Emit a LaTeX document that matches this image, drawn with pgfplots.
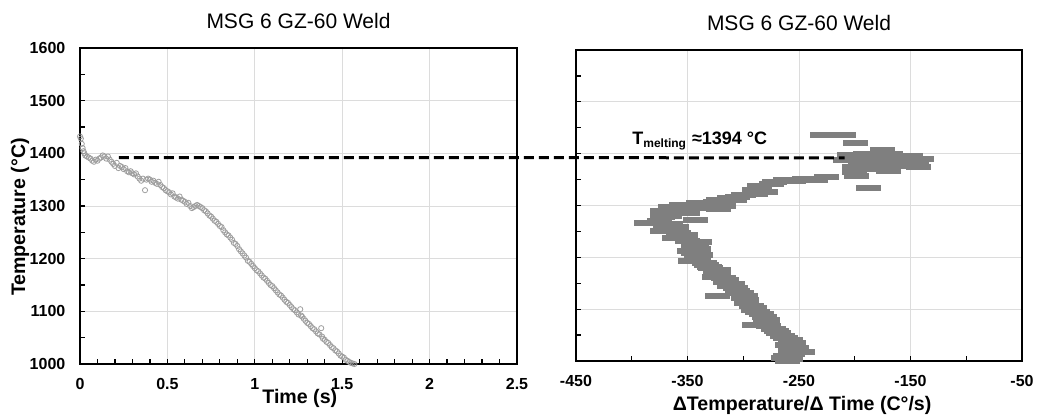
\documentclass[border=0pt]{standalone}
\usepackage{pgfplots}
\pgfplotsset{compat=1.18}
\usepackage{fontspec}
\setmainfont{Liberation Sans}

\definecolor{ptgray}{HTML}{9E9E9E}
\definecolor{bargray}{HTML}{7F7F7F}
\definecolor{gridgray}{HTML}{DCDCDC}

% flat horizontal bar used as marker in the rate plot
\pgfdeclareplotmark{hbar}{%
  \pgfpathrectangle{\pgfpoint{-6.25pt}{-1.5pt}}{\pgfpoint{12.5pt}{3pt}}%
  \pgfusepathqfill}

\pgfplotsset{
  weld/.style={
    scale only axis,
    axis line style={line width=1pt},
    tick style={black, line width=0.6pt},
    major tick length=2.5pt, minor tick length=2.5pt,
    tick align=inside, xtick pos=bottom, ytick pos=left,
    grid=major, major grid style={gridgray, line width=0.4pt},
    ticklabel style={font=\fontsize{8}{9}\selectfont\bfseries},
    xticklabel style={yshift=-3.8pt},
    yticklabel style={xshift=-3.8pt},
    /pgf/number format/assume math mode=true,
    /pgf/number format/1000 sep={},
    title style={font=\fontsize{10.5}{12}\selectfont, at={(0.5,1)}, anchor=base, yshift=4pt},
    label style={font=\fontsize{9.8}{11}\selectfont\bfseries},
    ymin=1000, ymax=1600, ytick={1000,1100,...,1600}, minor ytick={1050,1150,...,1550},
  }
}

\begin{document}
\begin{tikzpicture}
\path[use as bounding box] (0,0) rectangle (520.5pt,208.5pt);

\begin{axis}[weld,
  at={(40pt,26.5pt)}, anchor=south west,
  width=218.5pt, height=158pt,
  title={MSG 6 GZ-60 Weld},
  xmin=0, xmax=2.5, xtick={0,0.5,...,2.5}, minor x tick num=4,
  xlabel={Time (s)},
  xlabel style={at={(axis description cs:0.503,0)}, anchor=base, yshift=-20pt},
  ylabel={Temperature (°C)},
  ylabel style={at={(axis description cs:-0.137,0.465)}, anchor=center},
]
\addplot[only marks, mark=o, mark size=1.3pt, mark options={draw=ptgray, line width=0.4pt}]
table {
0.000 1432
0.005 1428
0.010 1418
0.015 1410
0.020 1404
0.025 1400
0.030 1396
0.040 1394
0.050 1392
0.060 1390
0.070 1386
0.080 1384
0.090 1388
0.100 1386
0.110 1390
0.120 1392
0.130 1396
0.140 1394
0.150 1390
0.160 1394
0.170 1388
0.180 1384
0.190 1380
0.200 1376
0.210 1382
0.220 1372
0.230 1376
0.240 1374
0.250 1370
0.260 1372
0.270 1366
0.280 1364
0.290 1366
0.300 1362
0.310 1360
0.320 1362
0.330 1356
0.340 1352
0.350 1348
0.360 1352
0.372 1330
0.380 1350
0.390 1352
0.400 1350
0.410 1346
0.420 1348
0.430 1344
0.440 1342
0.450 1346
0.460 1340
0.470 1336
0.480 1334
0.490 1330
0.500 1328
0.510 1326
0.520 1322
0.530 1324
0.540 1318
0.550 1316
0.560 1314
0.570 1318
0.580 1312
0.590 1310
0.600 1308
0.610 1304
0.620 1306
0.630 1300
0.640 1296
0.650 1298
0.660 1300
0.670 1302
0.680 1300
0.690 1298
0.700 1296
0.710 1292
0.720 1290
0.730 1286
0.740 1282
0.750 1280
0.760 1276
0.770 1272
0.780 1270
0.790 1266
0.800 1262
0.810 1260
0.820 1254
0.830 1250
0.840 1246
0.850 1244
0.860 1240
0.870 1236
0.880 1230
0.890 1228
0.900 1224
0.910 1218
0.920 1214
0.930 1210
0.940 1206
0.950 1202
0.960 1196
0.970 1194
0.980 1190
0.990 1186
1.000 1182
1.010 1178
1.020 1176
1.030 1172
1.040 1168
1.050 1164
1.060 1162
1.070 1158
1.080 1154
1.090 1150
1.100 1148
1.110 1144
1.120 1140
1.130 1136
1.140 1132
1.150 1130
1.160 1126
1.170 1122
1.180 1118
1.190 1116
1.200 1112
1.210 1108
1.220 1104
1.230 1102
1.240 1098
1.250 1094
1.260 1104
1.265 1092
1.270 1090
1.280 1086
1.290 1082
1.300 1078
1.310 1076
1.320 1072
1.330 1068
1.340 1066
1.350 1062
1.360 1058
1.370 1056
1.380 1068
1.385 1052
1.390 1048
1.400 1046
1.410 1042
1.420 1040
1.430 1036
1.440 1032
1.450 1030
1.460 1026
1.470 1024
1.480 1020
1.490 1016
1.500 1014
1.510 1012
1.520 1008
1.530 1006
1.540 1004
1.550 1002
1.560 1001
1.570 1000
};
\coordinate (dl) at (axis cs:0.223,1392);
\end{axis}

\begin{axis}[weld,
  at={(288pt,28pt)}, anchor=south west,
  width=223pt, height=155.5pt,
  title={MSG 6 GZ-60 Weld},
  xmin=-450, xmax=-50, xtick={-450,-350,...,-50}, minor xtick={-400,-300,-200,-100},
  yticklabels={,,,,,,,},
  xlabel={ΔTemperature/Δ Time (C°/s)},
  xlabel style={at={(axis description cs:0.507,0)}, anchor=base, yshift=-25pt},
]
\addplot[only marks, mark=hbar, color=bargray]
table {
-229 1436
-210 1436
-199 1421
-175 1408
-168 1400
-190 1400
-205 1398
-150 1396
-160 1394
-180 1394
-195 1392
-140 1390
-170 1390
-208 1388
-185 1386
-145 1385
-160 1383
-195 1381
-175 1379
-143 1374
-165 1376
-200 1374
-185 1370
-170 1366
-200 1364
-188 1333
-198 1357
-225 1355
-245 1352
-235 1349
-262 1350
-272 1345
-275 1341
-255 1347
-285 1338
-290 1330
-280 1327
-289 1323
-300 1320
-305 1317
-312 1314
-322 1310
-308 1311
-325 1306
-340 1304
-318 1300
-355 1301
-365 1298
-322 1294
-345 1296
-361 1292
-372 1290
-363 1287
-350 1285
-366 1280
-372 1277
-343 1272
-375 1270
-387 1266
-365 1265
-370 1261
-360 1258
-365 1252
-372 1250
-358 1247
-352 1244
-357 1240
-362 1238
-339 1229
-350 1232
-342 1224
-345 1220
-340 1216
-348 1212
-345 1208
-338 1204
-342 1200
-340 1197
-347 1193
-335 1190
-333 1186
-330 1182
-329 1179
-322 1176
-325 1172
-322 1168
-326 1163
-318 1160
-315 1156
-316 1152
-310 1148
-312 1144
-307 1140
-305 1136
-302 1132
-323 1126
-298 1126
-300 1122
-297 1118
-297 1111
-293 1107
-290 1103
-291 1098
-287 1094
-284 1090
-281 1084
-278 1080
-280 1076
-290 1070
-277 1068
-273 1062
-270 1058
-268 1054
-265 1048
-262 1044
-258 1040
-255 1035
-260 1030
-252 1026
-258 1022
-247 1017
-256 1014
-262 1010
-264 1006
-258 1003
-260 1000
};
\coordinate (dr) at (axis cs:-209,1392);
\node[font=\fontsize{9}{10}\selectfont\bfseries] at (axis cs:-339,1424)
  {T\textsubscript{melting} ≈1394 °C};
\end{axis}

\draw[black, line width=1.5pt, dash pattern=on 5pt off 2.5pt] (dl) -- (dr);
\end{tikzpicture}
\end{document}
